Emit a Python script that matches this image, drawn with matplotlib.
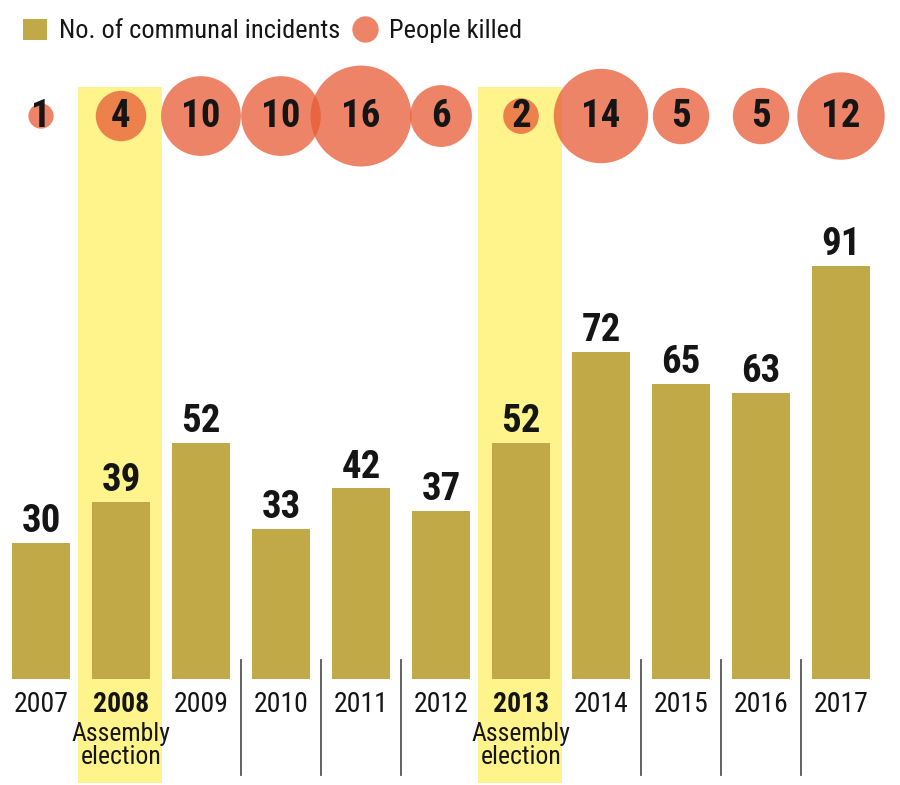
import matplotlib
matplotlib.use("Agg")
import matplotlib.pyplot as plt
from matplotlib import font_manager
from matplotlib.patches import Patch
from matplotlib.lines import Line2D

years = ["2007", "2008", "2009", "2010", "2011", "2012", "2013", "2014", "2015", "2016", "2017"]
incidents = [30, 39, 52, 33, 42, 37, 52, 72, 65, 63, 91]
killed = [1, 4, 10, 10, 16, 6, 2, 14, 5, 5, 12]
election_years = ["2008", "2013"]
election_note = "Assembly\nelection"
separators_after = ["2009", "2010", "2011", "2014", "2015", "2016"]
legend_labels = ["No. of communal incidents", "People killed"]

available = {f.name for f in font_manager.fontManager.ttflist}
fam = None
for cand in ["Roboto Condensed", "Liberation Sans Narrow", "Open Sans Condensed", "Roboto"]:
    if cand in available:
        fam = cand
        break
if fam is None:
    fam = "DejaVu Sans"
plt.rcParams['font.family'] = [fam, 'DejaVu Sans']

BAR = "#C2A947"
YELLOW = "#FFF38C"
BUBBLE = (232/255, 91/255, 54/255)
TXT = "#151515"

fig = plt.figure(figsize=(9, 7.85), dpi=100)
ax = fig.add_axes([0, 0, 1, 1])
ax.set_xlim(-0.5125, 10.7375)
ax.set_ylim(-23.35, 149.56)
ax.axis('off')

x = list(range(len(years)))

# election highlights
for i, y in enumerate(years):
    if y in election_years:
        ax.axvspan(i - 0.5375, i + 0.5125, ymin=2/785, ymax=698/785, color=YELLOW, lw=0, zorder=0)

bars = ax.bar(x, incidents, width=0.725, color=BAR, zorder=2)
for i, v in enumerate(incidents):
    ax.annotate(str(v), (i, v), xytext=(0, 2), textcoords='offset points',
                ha='center', va='bottom', fontsize=28, fontweight='bold', color=TXT, zorder=5)

# separators
for y in separators_after:
    i = years.index(y)
    ax.plot([i + 0.5, i + 0.5], [-21.1, 4.2], color="#555555", lw=1.3, zorder=1)

# year labels
for i, y in enumerate(years):
    bold = y in election_years
    ax.annotate(y, (i, 0), xytext=(0, -23.5), textcoords='offset points',
                ha='center', va='baseline', fontsize=20, color=TXT,
                fontweight='bold' if bold else 'normal')
    if bold:
        ax.annotate(election_note, (i, 0), xytext=(0, -61), textcoords='offset points',
                    ha='center', va='baseline', fontsize=18.5, color=TXT, linespacing=0.95)

# bubbles
bubble_y = 124.0
ax.scatter(x, [bubble_y] * len(x), s=[330 * k for k in killed], color=BUBBLE, alpha=0.75,
           linewidths=0, zorder=3)
for i, k in enumerate(killed):
    ax.text(i, bubble_y, str(k), ha='center', va='center', fontsize=28, fontweight='bold',
            color=TXT, zorder=6)

handles = [Patch(facecolor=BAR, edgecolor='none'),
           Line2D([], [], marker='o', ls='', markersize=19, markerfacecolor=BUBBLE,
                  markeredgewidth=0, alpha=0.75)]
leg = ax.legend(handles, legend_labels, loc='upper left', bbox_to_anchor=(0.002, 1.003),
                ncol=2, frameon=False, fontsize=19, handlelength=0.9, handleheight=0.85,
                handletextpad=0.45, columnspacing=0.5, borderpad=0.3)
for t in leg.get_texts():
    t.set_color(TXT)

fig.savefig("out.png", dpi=100)
